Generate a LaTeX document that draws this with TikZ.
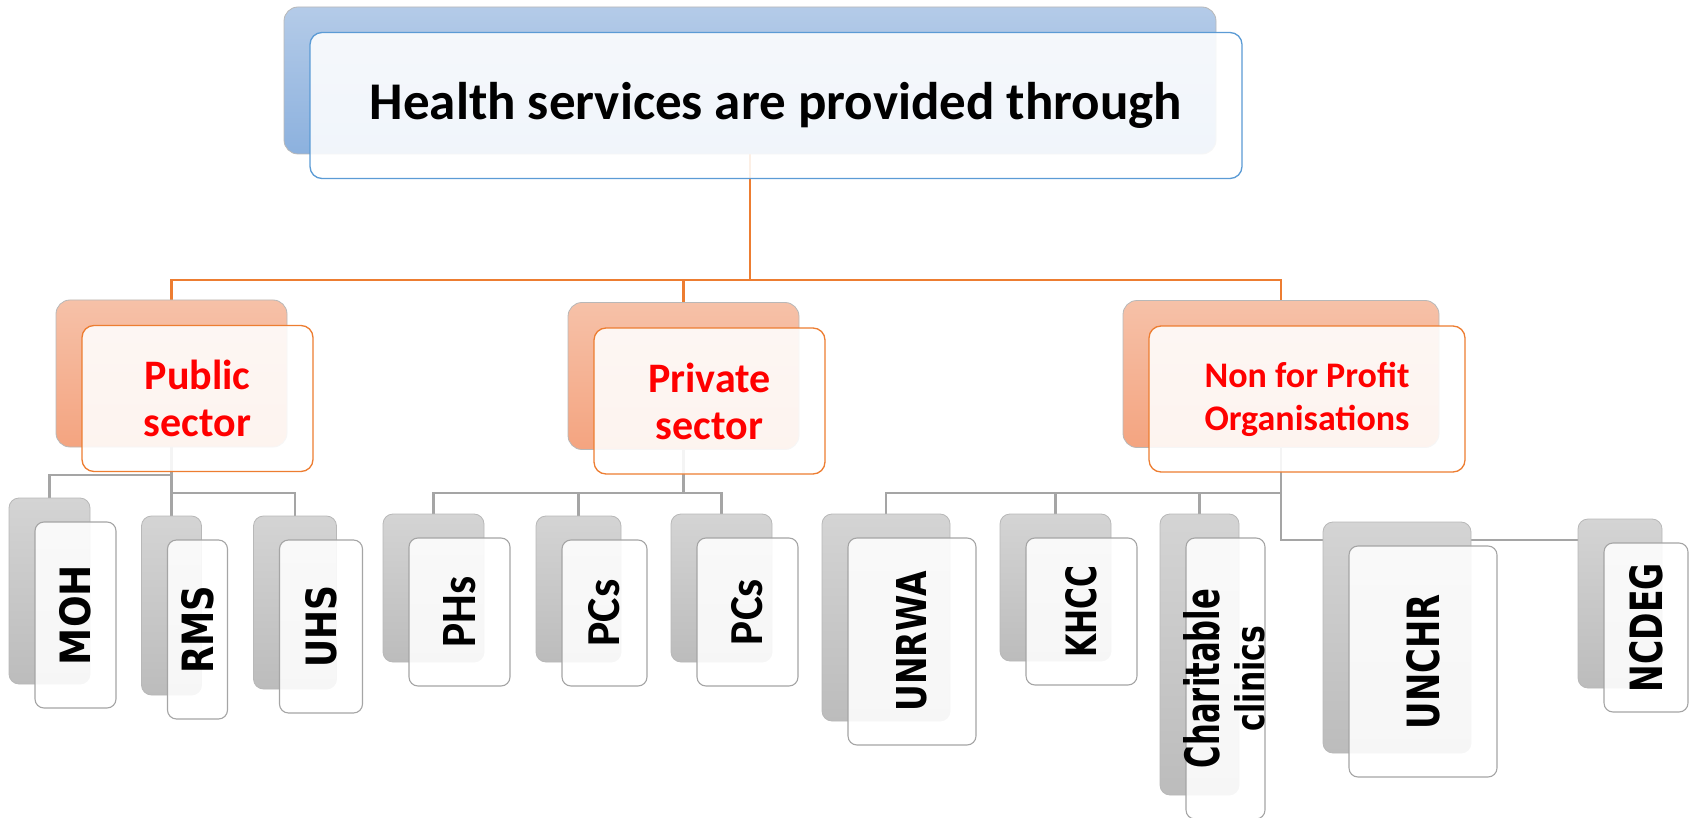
\documentclass[tikz,border=0pt]{standalone}
\usepackage{fontspec}
\setmainfont{Carlito}
\newfontfamily\leaffont{DejaVu Sans}
\usepackage{graphicx}
\usepackage{tikz}
\usetikzlibrary{backgrounds}

\definecolor{topbackA}{RGB}{180,203,232}
\definecolor{topbackB}{RGB}{140,177,222}
\definecolor{topline}{RGB}{91,155,213}
\definecolor{secbackA}{RGB}{246,193,168}
\definecolor{secbackB}{RGB}{244,164,128}
\definecolor{secline}{RGB}{237,125,49}
\definecolor{secred}{RGB}{255,0,0}
\definecolor{leafbackA}{RGB}{212,212,212}
\definecolor{leafbackB}{RGB}{188,188,188}
\definecolor{leafline}{RGB}{165,165,165}

\begin{document}
\begin{tikzpicture}[x=1pt, y=-1pt,
    backbox/.style={rounded corners=14pt, draw=black!28, line width=0.8pt, inner sep=0pt},
    frontbox/.style={rounded corners=12pt, fill=white, fill opacity=0.88, text opacity=1, line width=1.3pt, inner sep=0pt, align=center},
    topback/.style={backbox, top color=topbackA, bottom color=topbackB},
    topfront/.style={frontbox, draw=topline, font=\fontsize{53}{60}\selectfont\bfseries},
    secback/.style={backbox, top color=secbackA, bottom color=secbackB},
    secfront/.style={frontbox, draw=secline, text=secred},
    leafback/.style={backbox, rounded corners=10pt, top color=leafbackA, bottom color=leafbackB},
    leaffront/.style={frontbox, rounded corners=9pt, draw=leafline, line width=1.1pt},
    leaftext/.style={inner sep=0pt, font=\bfseries},
    orline/.style={draw=secline, line width=2.2pt},
    grline/.style={draw=leafline, line width=2.2pt}]
    \useasboundingbox (0,0) rectangle (1689,818);

    % Top box
    \node[topback, minimum width=932pt, minimum height=147pt] (top-b) at (750,80.5) {};
    \node[topfront, minimum width=932pt, minimum height=146pt] (top-f) at (776,105.5) {Health services are provided through};

    % Sectors
    \foreach \name/\x/\y/\bw/\fs/\ls/\txt in {pub/171.5/373.5/231/42/47/{Public\\sector}, pri/683.5/376/231/42/47/{Private\\sector}, npo/1281/374/316/36/43/{Non for Profit\\Organisations}}
    {
        \node[secback, minimum width=\bw pt, minimum height=147pt] (\name-b) at (\x,\y) {};
        \node[secfront, minimum width=\bw pt, minimum height=146pt, font=\fontsize{\fs}{\ls}\selectfont\bfseries] (\name-f) at (\x+26,\y+25) {\txt};
    }

    % Leaves
    \foreach \name/\x/\y/\bw/\bh in {moh/49.5/591/81/186, rms/171.5/605.5/60/179, uhs/295/602.5/83/173, phs/433.5/588/101/148, pcs/578.5/589/85/146, pcsb/721.5/588/101/148, unrwa/886/617.5/128/207, khcc/1055.5/587.5/111/147, char/1199.5/654.5/79/281, unchr/1397/637.5/148/231, ncdeg/1620/603.5/84/169}
    {
        \node[leafback, minimum width=\bw pt, minimum height=\bh pt] (\name-b) at (\x,\y) {};
        \node[leaffront, minimum width=\bw pt, minimum height=\bh pt] (\name-f) at (\x+26,\y+24) {};
    }

    % Leaf labels, turned upright
    \foreach \name/\tlen/\tthk/\txt in {moh/100/31/{\leaffont MOH}, rms/88/32/{\leaffont RMS}, uhs/82/31/{\leaffont UHS}, phs/71/32/PHs, pcs/67/31/PCs, pcsb/66/31/PCs, unrwa/140/30/{\leaffont UNRWA}, khcc/92/31/{\leaffont KHCC}, unchr/135/33/{\leaffont UNCHR}, ncdeg/129/33/{\leaffont NCDEG}}
        \node[leaftext] (\name-t) at (\name-f) {\rotatebox{90}{\resizebox{\tlen pt}{\tthk pt}{\txt}}};
    \node[leaftext] (char-t) at (char-f) {\rotatebox{90}{\begin{tabular}{@{}c@{}}\resizebox{179pt}{36pt}{\leaffont Charitable}\\[11pt]\resizebox{105pt}{30pt}{\leaffont clinics}\end{tabular}}};

    % Connectors
    \begin{scope}[on background layer]
        \path (top-b.south) ++(0,126) coordinate (bus);
        \draw[orline] (top-b.south) -- (bus);
        \draw[orline] (pub-b.north) |- (bus) -| (npo-b.north);
        \draw[orline] (pri-b.north) -- (pri-b.north |- bus);

        \draw[grline] (pub-b.south) -- (rms-b.north);
        \draw[grline] (moh-b.north) -- ++(0,-23) -| (pub-b.south);
        \draw[grline] (uhs-b.north) -- ++(0,-23) -| (pub-b.south);

        \path (pri-b.south) ++(0,43) coordinate (pbus);
        \draw[grline] (pri-b.south) -- (pbus);
        \draw[grline] (phs-b.north) |- (pbus) -| (pcsb-b.north);
        \draw[grline] (pcs-b.north) -- (pcs-b.north |- pbus);

        \path (npo-b.south) ++(0,45) coordinate (nbus);
        \path (nbus) ++(0,47) coordinate (nbus2);
        \draw[grline] (unrwa-b.north) |- (nbus) -- (npo-b.south);
        \draw[grline] (khcc-b.north) -- (khcc-b.north |- nbus);
        \draw[grline] (char-b.north) -- (char-b.north |- nbus);
        \draw[grline] (nbus) -- (nbus2) -- (nbus2 -| ncdeg-b.west);
    \end{scope}
\end{tikzpicture}
\end{document}
